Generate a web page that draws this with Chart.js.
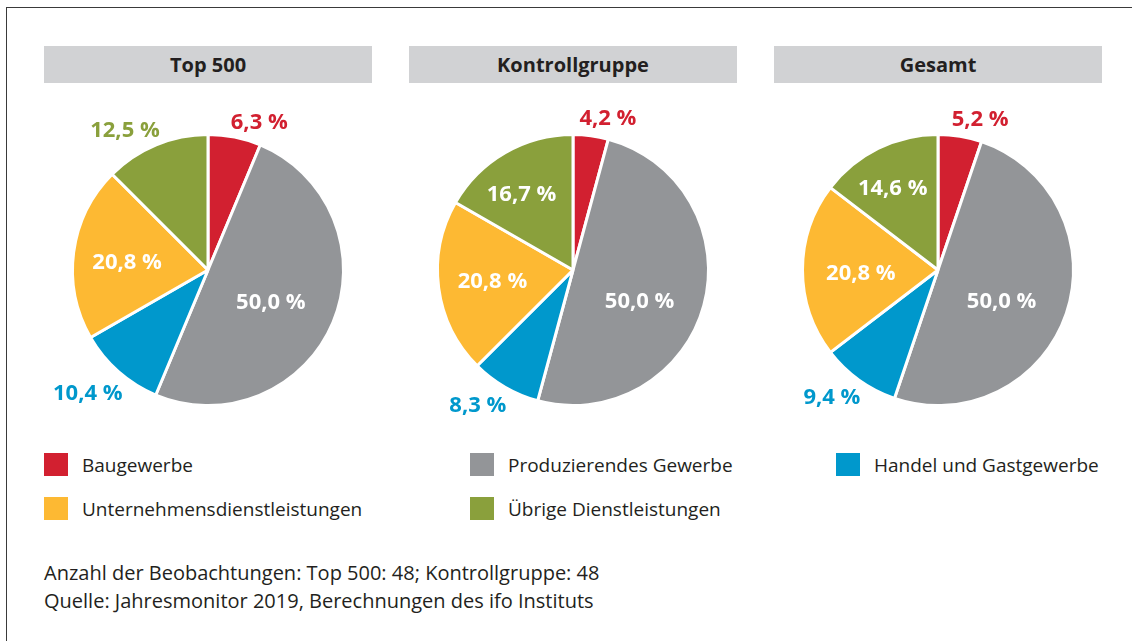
<!DOCTYPE html>
<html>
<head>
<meta charset="utf-8">
<script src="https://cdn.jsdelivr.net/npm/chart.js@4"></script>
<style>
    body { margin: 0; width: 1132px; height: 641px; background: #fff; font-family: "Open Sans", sans-serif; color: #231f20; overflow: hidden; position: relative; }
    .frame { position: absolute; left: 6px; top: 7px; right: 0; bottom: 0; border-top: 1.5px solid #3a3a3a; border-left: 1.5px solid #3a3a3a; }
    .title { position: absolute; top: 46px; width: 328px; height: 37px; background: #d1d2d4; font-weight: bold; font-size: 20px; line-height: 37px; text-align: center; }
    .pie { position: absolute; top: 90px; width: 360px; height: 360px; }
    .legend-item { position: absolute; font-size: 19px; line-height: 24px; white-space: nowrap; }
    .legend-item span { display: inline-block; width: 24px; height: 23px; vertical-align: top; margin-right: 14px; }
    .note { position: absolute; left: 44px; font-size: 20px; white-space: nowrap; }
</style>
</head>
<body>
<div class="frame"></div>
<div id="titles"></div>
<div id="pies"></div>
<div id="legend"></div>
<div class="note" style="top:559px">Anzahl der Beobachtungen: Top 500: 48; Kontrollgruppe: 48</div>
<div class="note" style="top:587px">Quelle: Jahresmonitor 2019, Berechnungen des ifo Instituts</div>

<script>
const categories = ['Baugewerbe', 'Produzierendes Gewerbe', 'Handel und Gastgewerbe', 'Unternehmensdienstleistungen', 'Übrige Dienstleistungen'];
const groups = ['Top 500', 'Kontrollgruppe', 'Gesamt'];
const top500 = [6.3, 50.0, 10.4, 20.8, 12.5];
const kontrollgruppe = [4.2, 50.0, 8.3, 20.8, 16.7];
const gesamt = [5.2, 50.0, 9.4, 20.8, 14.6];
const colors = ['#d22030', '#939598', '#0098cc', '#fdb933', '#8aa03c'];

// label placement: [angle shift from slice middle in degrees, distance as share of radius]
// distance < 1 -> inside in white, > 1 -> outside in slice colour
const labelPlace = [
    [[7.7, 1.16], [4.2, 0.52], [2.9, 1.27], [-2, 0.6], [-8.2, 1.2]],
    [[5.4, 1.15], [9.3, 0.54], [5.1, 1.22], [-0.2, 0.6], [-3.9, 0.68]],
    [[6.2, 1.16], [6.8, 0.52], [4.3, 1.22], [-2.2, 0.57], [-2.7, 0.69]]
];
const seriesList = [top500, kontrollgruppe, gesamt];
const centersX = [208, 573, 938];

const pieLabels = {
    id: 'pieLabels',
    afterDatasetsDraw(chart) {
        const ctx = chart.ctx;
        const meta = chart.getDatasetMeta(0);
        const place = chart.options.plugins.pieLabels.place;
        ctx.save();
        ctx.font = 'bold 22px "Open Sans", sans-serif';
        ctx.textAlign = 'center';
        ctx.textBaseline = 'middle';
        meta.data.forEach((arc, i) => {
            const mid = (arc.startAngle + arc.endAngle) / 2 + place[i][0] * Math.PI / 180;
            const r = arc.outerRadius * place[i][1];
            const x = arc.x + Math.cos(mid) * r;
            const y = arc.y + Math.sin(mid) * r;
            ctx.fillStyle = place[i][1] > 1 ? colors[i] : '#fff';
            const v = chart.data.datasets[0].data[i];
            ctx.fillText(v.toFixed(1).replace('.', ',') + ' %', x, y + 1);
        });
        ctx.restore();
    }
};

groups.forEach((g, k) => {
    const t = document.createElement('div');
    t.className = 'title';
    t.style.left = (centersX[k] - 164) + 'px';
    t.textContent = g;
    document.getElementById('titles').appendChild(t);

    const wrap = document.createElement('div');
    wrap.className = 'pie';
    wrap.style.left = (centersX[k] - 180) + 'px';
    const cv = document.createElement('canvas');
    cv.width = 360; cv.height = 360;
    wrap.appendChild(cv);
    document.getElementById('pies').appendChild(wrap);

    new Chart(cv, {
        type: 'pie',
        data: {
            labels: categories,
            datasets: [{
                data: seriesList[k],
                backgroundColor: colors,
                borderColor: '#fff',
                borderWidth: 3,
                hoverOffset: 0
            }]
        },
        options: {
            responsive: false,
            animation: false,
            layout: { padding: 43 },
            plugins: {
                legend: { display: false },
                tooltip: { enabled: false },
                pieLabels: { place: labelPlace[k] }
            }
        },
        plugins: [pieLabels]
    });
});

// legend, three columns by two rows
const legendPos = [[44, 453], [470, 453], [836, 453], [44, 497], [470, 497]];
categories.forEach((c, i) => {
    const d = document.createElement('div');
    d.className = 'legend-item';
    d.style.left = legendPos[i][0] + 'px';
    d.style.top = legendPos[i][1] + 'px';
    d.innerHTML = '<span style="background:' + colors[i] + '"></span>' + c;
    document.getElementById('legend').appendChild(d);
});
</script>
</body>
</html>
